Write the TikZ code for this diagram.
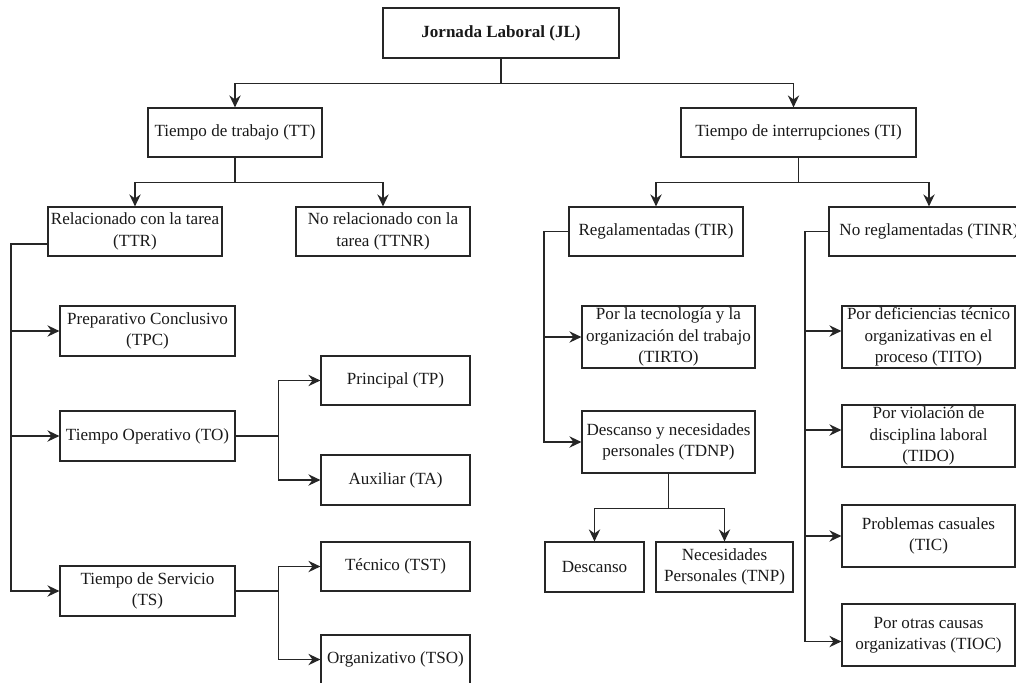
\documentclass[tikz,border=0pt]{standalone}
\usepackage{fontspec}
\setmainfont{Liberation Serif}
\usetikzlibrary{arrows.meta,calc}

\tikzset{
  box/.style={draw=black!85, line width=0.9pt, inner sep=0pt, align=center,
    text=black!90, font=\fontsize{12.8pt}{16pt}\selectfont},
  link/.style={draw=black!85, line width=1pt},
  arr/.style={link, -{Stealth[length=9pt,width=8.5pt,inset=3pt]}}
}
% \bx{name}{x1}{y1}{x2}{y2}{text}: box given by its corners
\newcommand\bx[6]{\node[box, minimum width={(#4-#2)*0.75pt},
  minimum height={(#5-#3)*0.75pt}] (#1) at ({(#2+#4)/2},{(#3+#5)/2}) {#6};}

\begin{document}
\begin{tikzpicture}[x=0.75pt, y=-0.75pt]
\path[use as bounding box] (0,0) rectangle (1016,682);
\clip (0,0) rectangle (1016,682);

% boxes
\bx{JL}{383}{8}{619}{58}{\textbf{Jornada Laboral (JL)}}
\bx{TT}{148}{108}{322}{157}{Tiempo de trabajo (TT)}
\bx{TI}{681}{108}{916}{157}{Tiempo de interrupciones (TI)}
\bx{TTR}{48}{207}{222}{256}{Relacionado con la tarea\\(TTR)}
\bx{TTNR}{296}{207}{470}{256}{No relacionado con la\\tarea (TTNR)}
\bx{TIR}{569}{207}{743}{256}{Regalamentadas (TIR)}
\bx{TINR}{829}{207}{1029}{256}{No reglamentadas (TINR)}

\bx{TPC}{60}{306}{235}{356}{Preparativo Conclusivo\\(TPC)}
\bx{TO}{60}{411}{235}{461}{Tiempo Operativo (TO)}
\bx{TS}{60}{566}{235}{616}{Tiempo de Servicio\\(TS)}
\bx{TP}{321}{356}{470}{405}{Principal (TP)}
\bx{TA}{321}{455}{470}{505}{Auxiliar (TA)}
\bx{TST}{321}{542}{470}{591}{Técnico (TST)}
\bx{TSO}{321}{635}{470}{684}{Organizativo (TSO)}

\bx{TIRTO}{582}{306}{755}{368}{Por la tecnología y la\\organización del trabajo\\(TIRTO)}
\bx{TDNP}{582}{411}{755}{473}{Descanso y necesidades\\personales (TDNP)}
\bx{DES}{545}{542}{644}{592}{Descanso}
\bx{TNP}{656}{542}{793}{592}{Necesidades\\Personales (TNP)}

\bx{TITO}{842}{306}{1015}{368}{Por deficiencias técnico\\organizativas en el\\proceso (TITO)}
\bx{TIDO}{842}{405}{1015}{467}{Por violación de\\disciplina laboral\\(TIDO)}
\bx{TIC}{842}{505}{1015}{567}{Problemas casuales\\(TIC)}
\bx{TIOC}{842}{604}{1015}{666}{Por otras causas\\organizativas (TIOC)}

% bus lines on the left of each group
\coordinate (busL) at (11,244);
\coordinate (busM) at (544,232);
\coordinate (busR) at (805,232);

% top level
\draw[arr] (JL.south) -- ++(0,25) -| (TT.north);
\draw[arr] (JL.south) -- ++(0,25) -| ($(TI.north)+(-5,0)$);

% second level
\draw[arr] (TT.south) -- ++(0,25) -| (TTR.north);
\draw[arr] (TT.south) -- ++(0,25) -| (TTNR.north);
\draw[arr] (TI.south) -- ++(0,25) -| (TIR.north);
\draw[arr] (TI.south) -- ++(0,25) -| (TINR.north);

% tiempo relacionado con la tarea
\draw[arr] ($(TTR.west)+(0,12.5)$) -| (busL |- TPC.west) -- (TPC.west);
\draw[arr] ($(TTR.west)+(0,12.5)$) -| (busL |- TO.west) -- (TO.west);
\draw[arr] ($(TTR.west)+(0,12.5)$) -| (busL |- TS.west) -- (TS.west);
\draw[arr] (TO.east) -- ++(43,0) |- (TP.west);
\draw[arr] (TO.east) -- ++(43,0) |- (TA.west);
\draw[arr] (TS.east) -- ++(43,0) |- (TST.west);
\draw[arr] (TS.east) -- ++(43,0) |- (TSO.west);

% interrupciones reglamentadas
\draw[arr] (TIR.west) -| (busM |- TIRTO.west) -- (TIRTO.west);
\draw[arr] (TIR.west) -| (busM |- TDNP.west) -- (TDNP.west);
\draw[arr] (TDNP.south) -- ++(0,35) -| (DES.north);
\draw[arr] (TDNP.south) -- ++(0,35) -| (TNP.north);

% interrupciones no reglamentadas
\draw[arr] (TINR.west) -| (busR |- {$(TITO.west)+(0,-6)$}) -- ($(TITO.west)+(0,-6)$);
\draw[arr] (TINR.west) -| (busR |- {$(TIDO.west)+(0,-6)$}) -- ($(TIDO.west)+(0,-6)$);
\draw[arr] (TINR.west) -| (busR |- TIC.west) -- (TIC.west);
\draw[arr] (TINR.west) -| (busR |- {$(TIOC.west)+(0,6.5)$}) -- ($(TIOC.west)+(0,6.5)$);
\end{tikzpicture}
\end{document}
